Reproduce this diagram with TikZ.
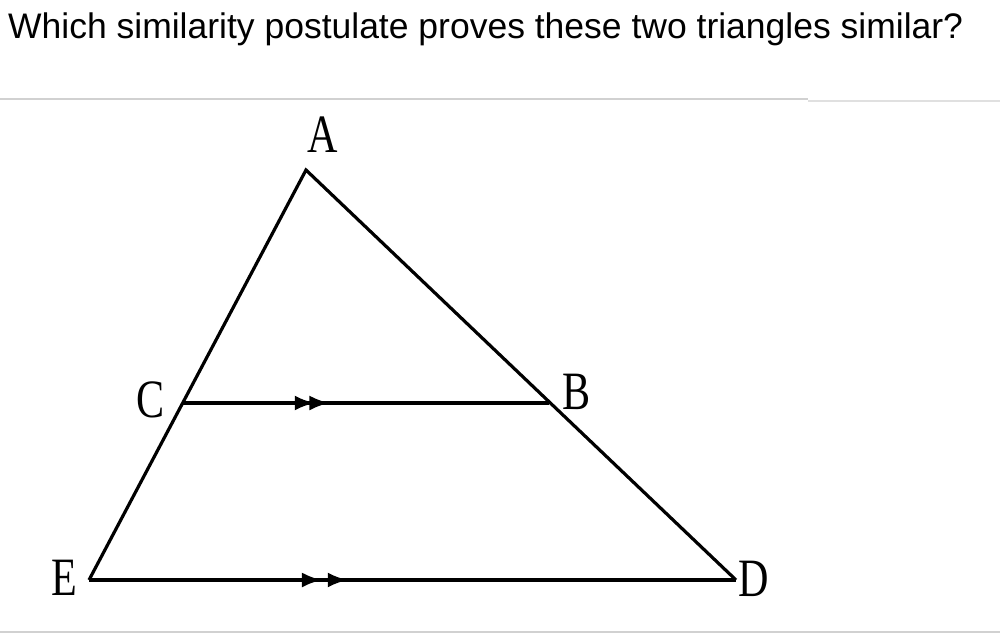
\documentclass[tikz,border=0pt]{standalone}
\usepackage{fontspec}
\setmainfont{Liberation Serif}
\newfontfamily\qfont{Liberation Sans}
\newfontfamily\lblfont[FakeStretch=0.78]{Liberation Serif}
\usetikzlibrary{arrows.meta,decorations.markings}
\tikzset{
  seg/.style={line width=3.2pt,black},
  par/.style={seg,postaction={decorate},decoration={markings,
      mark=at position #1 with {\arrow{Latex[length=20pt,width=15pt]}},
      mark=at position #1+0.04 with {\arrow{Latex[length=20pt,width=15pt]}}}},
  vlabel/.style={font=\lblfont\fontsize{54}{54}\selectfont,inner sep=0pt},
  rule/.style={line width=2pt,black!18}
}
\begin{document}
\begin{tikzpicture}[x=1pt,y=-1pt]
  \useasboundingbox (0,0) rectangle (1000,637);
  \node[anchor=base west,inner sep=0pt,font=\qfont\fontsize{35.5}{40}\selectfont] (q) at (8,38) {Which similarity postulate proves these two triangles similar?};
  \draw[rule] (0,99) -- (808,99);
  \draw[rule,black!12] (808,101) -- (1000,101);
  \draw[rule] (0,632) -- (1000,632);
  \coordinate (A) at (306,170);
  \coordinate (E) at (89,580);
  \coordinate (D) at (736,580);
  \coordinate (C) at (183,403);
  \coordinate (B) at (549,403);
  \draw[seg,line join=miter] (E) -- (A) -- (D);
  \draw[par=0.36] (C) -- (B);
  \draw[par=0.36] (E) -- (D);
  \node[vlabel] (lA) at (323,135) {A};
  \node[vlabel] (lC) at (151,400) {C};
  \node[vlabel] (lB) at (577,392) {B};
  \node[vlabel] (lE) at (64,578) {E};
  \node[vlabel] (lD) at (754,579) {D};
\end{tikzpicture}
\end{document}
